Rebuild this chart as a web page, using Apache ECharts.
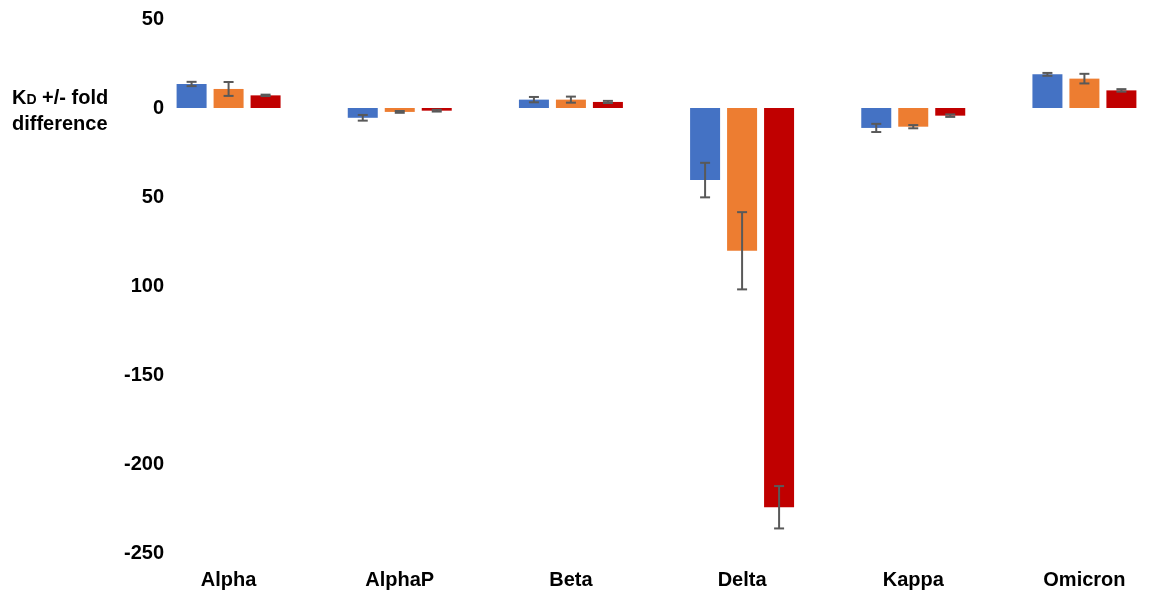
<!DOCTYPE html>
<html>
<head>
<meta charset="utf-8">
<script src="https://cdn.jsdelivr.net/npm/echarts@6/dist/echarts.min.js"></script>
<style>
  html, body { margin: 0; padding: 0; background: #fff; }
  #chart { width: 1150px; height: 595px; }
</style>
</head>
<body>
<div id="chart"></div>
<script>
// Variants along the x axis
const categories = ['Alpha', 'AlphaP', 'Beta', 'Delta', 'Kappa', 'Omicron'];

// Fold difference per variant, three antibodies (value and error half-width)
const blueValues   = [13.5, -5.5, 4.7, -40.5, -11.2, 18.9];
const blueErrors   = [1.2, 1.6, 1.5, 9.7, 2.3, 0.8];
const orangeValues = [10.7, -2.2, 4.7, -80.2, -10.5, 16.5];
const orangeErrors = [3.9, 0.5, 1.7, 21.7, 0.9, 2.7];
const redValues    = [7.1, -1.5, 3.4, -224.3, -4.3, 9.9];
const redErrors    = [0.4, 0.5, 0.6, 11.9, 0.7, 0.7];

// Tick values and the text printed at each of them
const tickValues = [50, 0, -50, -100, -150, -200, -250];
const tickLabels = ['50', '0', '50', '100', '-150', '-200', '-250'];

const FONT = "'Liberation Sans', Arial, sans-serif";
const BAR_W = 30;
const BAR_GAP = 7;
const ERR_COLOR = '#595959';

function errorSeries(values, errors, slot) {
  return {
    type: 'custom',
    z: 5,
    silent: true,
    data: values.map((v, i) => [i, v - errors[i], v + errors[i]]),
    encode: { x: 0, y: [1, 2] },
    renderItem: function (params, api) {
      const c = api.value(0);
      const lo = api.coord([c, api.value(1)]);
      const hi = api.coord([c, api.value(2)]);
      const x = lo[0] + slot * (BAR_W + BAR_GAP);
      const cap = 5;
      const style = { stroke: ERR_COLOR, lineWidth: 2, fill: null };
      return {
        type: 'group',
        children: [
          { type: 'line', shape: { x1: x, y1: lo[1], x2: x, y2: hi[1] }, style: style },
          { type: 'line', shape: { x1: x - cap, y1: lo[1], x2: x + cap, y2: lo[1] }, style: style },
          { type: 'line', shape: { x1: x - cap, y1: hi[1], x2: x + cap, y2: hi[1] }, style: style }
        ]
      };
    }
  };
}

function barSeries(name, values, color) {
  return {
    name: name,
    type: 'bar',
    data: values,
    barWidth: BAR_W,
    barGap: (BAR_GAP / BAR_W * 100).toFixed(1) + '%',
    itemStyle: { color: color },
    silent: true
  };
}

const chart = echarts.init(document.getElementById('chart'));
chart.setOption({
  animation: false,
  backgroundColor: '#ffffff',
  grid: { left: 143, top: 19, bottom: 42, width: 1027, outerBoundsMode: 'none', containLabel: false },
  xAxis: {
    type: 'category',
    data: categories,
    axisLine: { show: false, onZero: false },
    axisTick: { show: false },
    axisLabel: {
      margin: 17,
      color: '#000',
      fontFamily: FONT,
      fontWeight: 'bold',
      fontSize: 20
    }
  },
  yAxis: {
    type: 'value',
    min: -250,
    max: 50,
    interval: 50,
    axisLine: { show: false },
    axisTick: { show: false },
    splitLine: { show: false },
    axisLabel: {
      margin: -21,
      color: '#000',
      fontFamily: FONT,
      fontWeight: 'bold',
      fontSize: 20,
      formatter: function (v) {
        const i = tickValues.indexOf(v);
        return i >= 0 ? tickLabels[i] : '';
      }
    }
  },
  graphic: [
    {
      type: 'text',
      left: 12,
      top: 88,
      style: {
        text: '{k|K}{d|D}{k| +/- fold}\n{k|difference}',
        rich: {
          k: { fontFamily: FONT, fontWeight: 'bold', fontSize: 20, fill: '#000', lineHeight: 26, verticalAlign: 'bottom' },
          d: { fontFamily: FONT, fontWeight: 'bold', fontSize: 14, fill: '#000', lineHeight: 26, verticalAlign: 'bottom', padding: [0, 0, 1, 0] }
        }
      }
    }
  ],
  series: [
    barSeries('Blue', blueValues, '#4472C4'),
    barSeries('Orange', orangeValues, '#ED7D31'),
    barSeries('Red', redValues, '#C00000'),
    errorSeries(blueValues, blueErrors, -1),
    errorSeries(orangeValues, orangeErrors, 0),
    errorSeries(redValues, redErrors, 1)
  ]
});
</script>
</body>
</html>
